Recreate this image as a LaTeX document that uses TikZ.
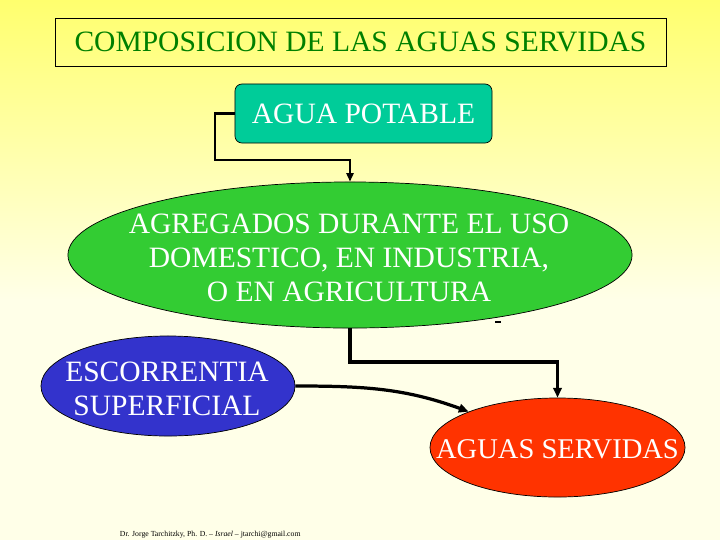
\documentclass[tikz,border=0pt]{standalone}
\usepackage{fontspec}
\setmainfont{Liberation Serif}
\usetikzlibrary{shapes.geometric,arrows.meta}
\definecolor{fondoA}{RGB}{255,255,110}
\definecolor{fondoB}{RGB}{255,255,232}
\definecolor{verdeT}{RGB}{0,128,0}
\definecolor{turquesa}{RGB}{0,204,153}
\definecolor{verde}{RGB}{51,204,51}
\definecolor{azul}{RGB}{51,51,204}
\definecolor{rojo}{RGB}{255,51,0}
\tikzset{
	grande/.style={font=\fontsize{21}{24}\selectfont, text=white, align=center},
	elipse/.style={ellipse, draw=black, line width=.5pt, inner sep=0pt},
	flecha/.style={-{Triangle[length=6pt,width=5pt]}, line width=1.6pt},
	flechaG/.style={-{Triangle[length=7pt,width=6pt]}, line width=2.3pt}
}
\begin{document}
\begin{tikzpicture}[x=0.025cm,y=-0.025cm]
	% fondo
	\useasboundingbox (0,0) rectangle (720,540);
	\shade [top color=fondoA, bottom color=fondoB] (0,0) rectangle (720,300);
	\fill [fondoB] (0,300) rectangle (720,540);

	\node [draw=black, line width=.6pt, minimum width=15.275cm, minimum height=1.2cm, font=\fontsize{21}{24}\selectfont, text=verdeT] (titulo) at (360.5,42) {COMPOSICION DE LAS AGUAS SERVIDAS};

	\node [draw=black, line width=.5pt, fill=turquesa, rounded corners=5pt, minimum width=6.425cm, minimum height=1.475cm, grande] (potable) at (363.5,113.5) {AGUA POTABLE};

	% elipses
	\node [elipse, fill=verde, minimum width=14.1cm, minimum height=3.65cm] (agregados) at (350,255) {};
	\node [grande] (agregadosT) at (349,258) {AGREGADOS DURANTE EL USO\\DOMESTICO, EN INDUSTRIA,\\O EN AGRICULTURA};

	\node [elipse, fill=azul, minimum width=6.35cm, minimum height=2.5cm] (escorrentia) at (168,386) {};
	\node [grande] (escorrentiaT) at (167,389) {ESCORRENTIA\\SUPERFICIAL};

	\node [elipse, fill=rojo, minimum width=6.375cm, minimum height=2.475cm] (servidas) at (557.5,447.5) {};
	\node [grande, font=\fontsize{20.3}{24}\selectfont] (servidasT) at (557.5,449) {AGUAS SERVIDAS};

	\coordinate (k1) at (215,160);
	\coordinate (k2) at (557.5,362);
	\draw [flecha] (potable.west) -| (k1) -| (agregados.north);
	\draw [flechaG] (agregados.south) |- (k2) -| (servidas.north);
	\draw [flechaG] (escorrentia.east) to[out=0,in=160] (servidas.158);
	\draw [line width=1.5pt] (495,322) -- (501,322);

	\node [font=\fontsize{5.5}{6}\selectfont, anchor=west] (firma) at (115,535) {Dr. Jorge Tarchitzky, Ph. D. -- \textit{Israel} -- jtarchi@gmail.com};
\end{tikzpicture}
\end{document}
